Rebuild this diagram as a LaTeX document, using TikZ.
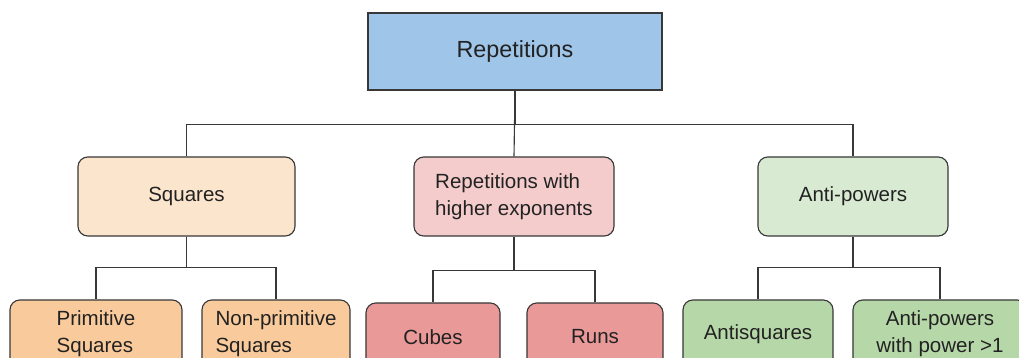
\documentclass[tikz,border=0pt]{standalone}
\usepackage{fontspec}
\setmainfont{Liberation Sans}
\usepackage{tikz}
\usetikzlibrary{positioning}
\usepackage{xcolor}
\definecolor{rpblue}{HTML}{9FC5E8}
\definecolor{rporange}{HTML}{FCE5CD}
\definecolor{rporange2}{HTML}{F9CB9C}
\definecolor{rpred}{HTML}{F4CCCC}
\definecolor{rpred2}{HTML}{EA9999}
\definecolor{rpgreen}{HTML}{D9EAD3}
\definecolor{rpgreen2}{HTML}{B6D7A8}
\definecolor{rpline}{HTML}{383838}
\definecolor{rptext}{HTML}{222222}
\tikzstyle{box} = [rectangle, draw=rpline, line width=0.8pt, text=rptext, align=center, inner sep=0pt, font=\fontsize{14.6}{19}\selectfont]
\tikzstyle{group} = [box, rounded corners=7pt, minimum height=1.975cm]
\tikzstyle{leaf} = [box, rounded corners=7pt, minimum height=1.7cm]
\tikzstyle{link} = [line width=0.8pt, color=rpline]

\begin{document}
\begin{tikzpicture}[x=0.025cm, y=-0.025cm]
\useasboundingbox (0,0) rectangle (1019,357);
% Top
\node[box, minimum width=7.35cm, minimum height=1.925cm, fill=rpblue, font=\fontsize{16.6}{20}\selectfont] (root) at (515,51.5) {Repetitions};

% Second level
\node[group, minimum width=5.425cm, fill=rporange] (sq) at (186.5,196.5) {Squares};
\node[group, minimum width=5cm, fill=rpred, align=left] (rep) at (514,196.5) {Repetitions with\\higher exponents};
\node[group, minimum width=4.75cm, fill=rpgreen] (anti) at (853,196.5) {Anti-powers};

\draw[link] (root.south) -- ++(0,34) -| (sq.north);
\draw[link] (root.south) -- ++(0,34) -| (anti.north);
\draw[link] (root.south) -- (rep.north);

% Third level
\node[leaf, minimum width=4.3cm, fill=rporange2, align=left] (prim) at (96,334) {Primitive\\Squares};
\node[leaf, minimum width=3.7cm, fill=rporange2, align=left] (nonprim) at (276,334) {Non-primitive\\Squares};
\node[leaf, minimum width=3.35cm, fill=rpred2] (cubes) at (433,337) {Cubes};
\node[leaf, minimum width=3.4cm, fill=rpred2] (runs) at (595,337) {Runs};
\node[leaf, minimum width=3.75cm, fill=rpgreen2] (antisq) at (758,334) {Antisquares};
\node[leaf, minimum width=4.35cm, fill=rpgreen2] (antipow) at (940,334) {Anti-powers\\with power >1};

\draw[link] (sq.south) -- ++(0,31) -| (prim.north);
\draw[link] (sq.south) -- ++(0,31) -| (nonprim.north);
\draw[link] (rep.south) -- ++(0,34) -| (cubes.north);
\draw[link] (rep.south) -- ++(0,34) -| (runs.north);
\draw[link] (anti.south) -- ++(0,31) -| (antisq.north);
\draw[link] (anti.south) -- ++(0,31) -| (antipow.north);
\end{tikzpicture}
\end{document}
